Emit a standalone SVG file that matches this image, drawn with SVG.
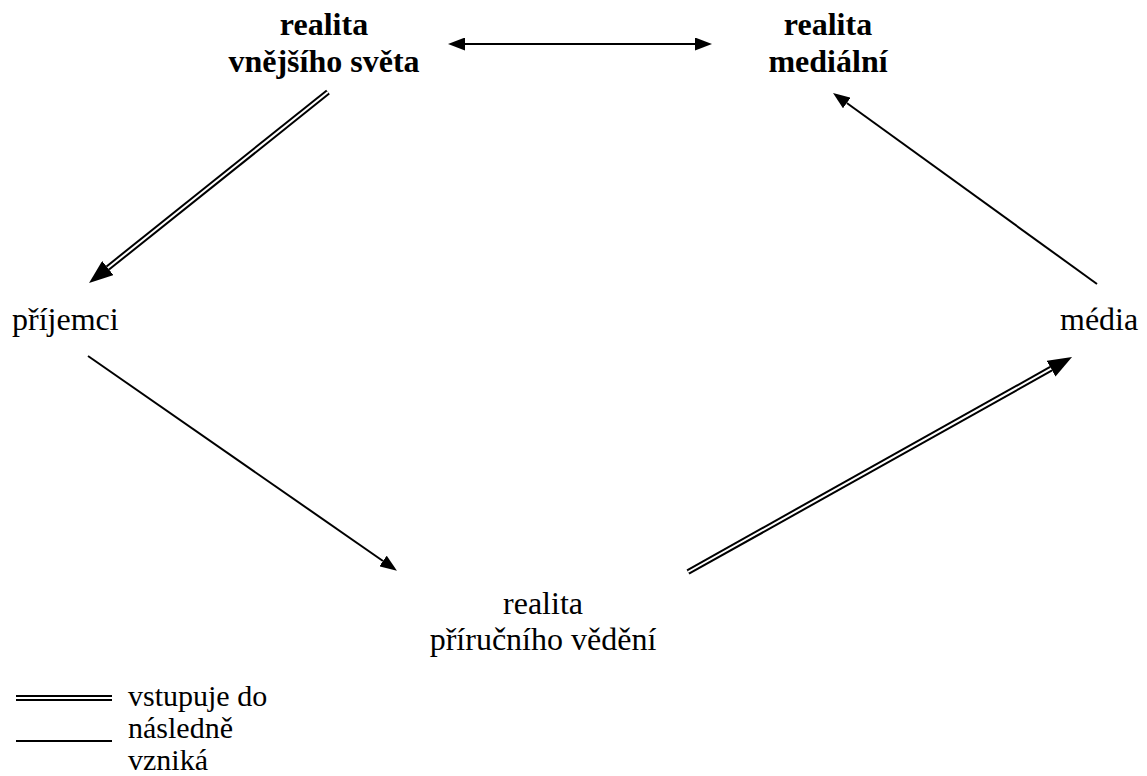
<svg xmlns="http://www.w3.org/2000/svg" width="1147" height="776" viewBox="0 0 1147 776">
<style>
text{font-size:32px;fill:#000}
.b{font-weight:bold}
.m{text-anchor:middle}
.lg{font-size:30px}
.outer{stroke:#000;stroke-width:6;fill:none}
.inner{stroke:#fff;stroke-width:2;fill:none}
.single{stroke:#000;stroke-width:2;fill:none}
</style>
<defs>
<marker id="hBig" markerUnits="userSpaceOnUse" markerWidth="24" markerHeight="18" refX="0" refY="9" orient="auto"><path d="M0,0 L24,9 L0,18 z" fill="#000"/></marker>
<marker id="hSmall" markerUnits="userSpaceOnUse" markerWidth="17" markerHeight="13" refX="0" refY="6.5" orient="auto-start-reverse"><path d="M0,0 L17,6.5 L0,13 z" fill="#000"/></marker>
</defs>
<rect width="1147" height="776" fill="#fff"/>
<g font-family="Liberation Serif, Times New Roman, Times, serif">
<g id="n-vnejsi">
<text class="b m" x="324" y="35">realita</text>
<text class="b m" x="324" y="72">vnějšího světa</text>
</g>
<g id="n-medialni">
<text class="b m" x="828" y="35">realita</text>
<text class="b m" x="828" y="72">mediální</text>
</g>
<g id="n-prijemci">
<text x="12" y="330">příjemci</text>
</g>
<g id="n-media">
<text x="1060" y="330">média</text>
</g>
<g id="n-prirucni">
<text class="m" x="543" y="614">realita</text>
<text class="m" x="543" y="650">příručního vědění</text>
</g>
</g>
<g id="connectors">
<line class="single" x1="465" y1="44" x2="695" y2="44" marker-start="url(#hSmall)" marker-end="url(#hSmall)"/>
<line class="outer" x1="328" y1="92" x2="107.8" y2="268" marker-end="url(#hBig)"/>
<line class="inner" x1="328" y1="92" x2="107.8" y2="268"/>
<line class="outer" x1="688" y1="572" x2="1051.1" y2="368.7" marker-end="url(#hBig)"/>
<line class="inner" x1="688" y1="572" x2="1051.1" y2="368.7"/>
<line class="single" x1="1097" y1="284" x2="846.8" y2="103" marker-end="url(#hSmall)"/>
<line class="single" x1="88" y1="356" x2="383" y2="561" marker-end="url(#hSmall)"/>
</g>
<g id="legend" font-family="Liberation Serif, Times New Roman, Times, serif">
<line class="outer" x1="16" y1="698" x2="112" y2="698"/>
<line class="inner" x1="16" y1="698" x2="112" y2="698"/>
<line class="single" x1="16" y1="741" x2="112" y2="741"/>
<text class="lg" x="128" y="706">vstupuje do</text>
<text class="lg" x="128" y="738">následně</text>
<text class="lg" x="128" y="770">vzniká</text>
</g>
</svg>
